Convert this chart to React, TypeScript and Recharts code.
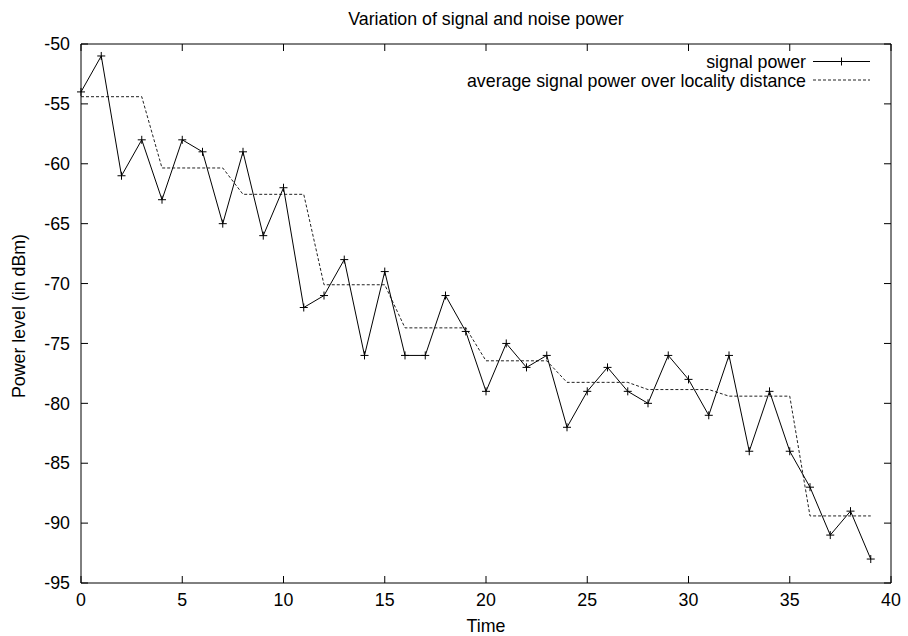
import React from "react";
import { LineChart, Line, XAxis, YAxis } from "recharts";

const timeSteps = [
  0, 1, 2, 3, 4, 5, 6, 7, 8, 9, 10, 11, 12, 13, 14, 15, 16, 17, 18, 19,
  20, 21, 22, 23, 24, 25, 26, 27, 28, 29, 30, 31, 32, 33, 34, 35, 36, 37, 38, 39,
];
const signalPower = [
  -54, -51, -61, -58, -63, -58, -59, -65, -59, -66, -62, -72, -71, -68, -76, -69, -76, -76, -71, -74,
  -79, -75, -77, -76, -82, -79, -77, -79, -80, -76, -78, -81, -76, -84, -79, -84, -87, -91, -89, -93,
];
const avgPower = [
  -54.4, -54.4, -54.4, -54.4, -60.35, -60.35, -60.35, -60.35, -62.55, -62.55, -62.55, -62.55,
  -70.1, -70.1, -70.1, -70.1, -73.7, -73.7, -73.7, -73.7, -76.45, -76.45, -76.45, -76.45,
  -78.25, -78.25, -78.25, -78.25, -78.85, -78.85, -78.85, -78.85, -79.4, -79.4, -79.4, -79.4,
  -89.4, -89.4, -89.4, -89.4,
];
const xTicks = [0, 5, 10, 15, 20, 25, 30, 35, 40];
const yTicks = [-95, -90, -85, -80, -75, -70, -65, -60, -55, -50];

const data = timeSteps.map((t, i) => ({ t, signal: signalPower[i], avg: avgPower[i] }));

const FONT = '"Liberation Sans", Arial, Helvetica, sans-serif';
const FS = 17.8;
const TICK = 7;

const PlusDot = (props: any) => {
  const { cx, cy, index } = props;
  if (cx == null || cy == null) return <g key={index} />;
  return (
    <path
      key={index}
      d={`M${cx - 4},${cy}H${cx + 4}M${cx},${cy - 4}V${cy + 4}`}
      stroke="#000"
      strokeWidth={1}
      fill="none"
    />
  );
};

// gnuplot style: tick marks point into the plot, labels sit outside
const BottomTick = ({ x, y, payload }: any) => (
  <g>
    <line x1={x} y1={y} x2={x} y2={y - TICK} stroke="#000" />
    <text x={x} y={y + 23} textAnchor="middle" fontFamily={FONT} fontSize={FS} fill="#000">
      {payload.value}
    </text>
  </g>
);
const TopTick = ({ x, y }: any) => <line x1={x} y1={y} x2={x} y2={y + TICK} stroke="#000" />;
const LeftTick = ({ x, y, payload }: any) => (
  <g>
    <line x1={x} y1={y} x2={x + TICK} y2={y} stroke="#000" />
    <text x={x - 11} y={y} dy="0.35em" textAnchor="end" fontFamily={FONT} fontSize={FS} fill="#000">
      {payload.value}
    </text>
  </g>
);
const RightTick = ({ x, y }: any) => <line x1={x} y1={y} x2={x - TICK} y2={y} stroke="#000" />;

export default function App() {
  const textProps = { fontFamily: FONT, fontSize: FS, fill: "#000" };
  return (
    <div style={{ position: "absolute", left: 0, top: 0, width: 908, height: 636, background: "#fff" }}>
      <LineChart width={908} height={636} data={data} margin={{ top: 43, right: 16, bottom: 52, left: 80 }}>
        <XAxis
          xAxisId="b"
          dataKey="t"
          type="number"
          domain={[0, 40]}
          ticks={xTicks}
          interval={0}
          height={1}
          tickSize={0}
          tickMargin={0}
          tickLine={false}
          axisLine={{ stroke: "#000" }}
          tick={<BottomTick />}
        />
        <XAxis
          xAxisId="t"
          orientation="top"
          dataKey="t"
          type="number"
          domain={[0, 40]}
          ticks={xTicks}
          interval={0}
          height={1}
          tickSize={0}
          tickMargin={0}
          tickLine={false}
          axisLine={{ stroke: "#000" }}
          tick={<TopTick />}
        />
        <YAxis
          yAxisId="l"
          type="number"
          domain={[-95, -50]}
          ticks={yTicks}
          interval={0}
          width={1}
          tickSize={0}
          tickMargin={0}
          tickLine={false}
          axisLine={{ stroke: "#000" }}
          tick={<LeftTick />}
          allowDataOverflow
        />
        <YAxis
          yAxisId="r"
          orientation="right"
          type="number"
          domain={[-95, -50]}
          ticks={yTicks}
          interval={0}
          width={1}
          tickSize={0}
          tickMargin={0}
          tickLine={false}
          axisLine={{ stroke: "#000" }}
          tick={<RightTick />}
          allowDataOverflow
        />
        <Line
          xAxisId="b"
          yAxisId="l"
          type="linear"
          dataKey="avg"
          stroke="#222"
          strokeWidth={1}
          strokeDasharray="3 2"
          dot={false}
          isAnimationActive={false}
        />
        <Line
          xAxisId="b"
          yAxisId="l"
          type="linear"
          dataKey="signal"
          stroke="#000"
          strokeWidth={1}
          dot={<PlusDot />}
          isAnimationActive={false}
        />
      </LineChart>
      <svg width={908} height={636} style={{ position: "absolute", left: 0, top: 0, pointerEvents: "none" }}>
        <text x={486} y={25} textAnchor="middle" {...textProps}>
          Variation of signal and noise power
        </text>
        <text x={486} y={632} textAnchor="middle" {...textProps}>
          Time
        </text>
        <text x={25} y={316} textAnchor="middle" transform="rotate(-90 25 316)" {...textProps}>
          Power level (in dBm)
        </text>
        {/* legend */}
        <text x={806} y={68} textAnchor="end" {...textProps}>
          signal power
        </text>
        <line x1={813} y1={61.5} x2={870} y2={61.5} stroke="#000" />
        <path d="M837.5,61.5H845.5M841.5,57.5V65.5" stroke="#000" fill="none" />
        <text x={806} y={86.5} textAnchor="end" {...textProps}>
          average signal power over locality distance
        </text>
        <line x1={813} y1={80} x2={870} y2={80} stroke="#222" strokeDasharray="3 2" />
      </svg>
    </div>
  );
}
